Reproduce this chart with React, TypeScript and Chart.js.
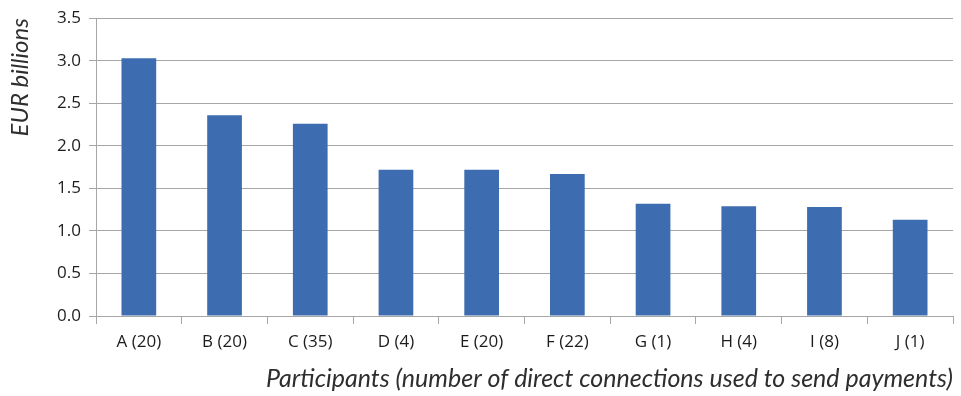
import React, { useEffect, useRef } from "react";
import { Chart, registerables } from "chart.js";

Chart.register(...registerables);

// Participants with their number of direct connections used to send payments
const categories = ["A (20)", "B (20)", "C (35)", "D (4)", "E (20)", "F (22)", "G (1)", "H (4)", "I (8)", "J (1)"];
// Value in EUR billions
const values = [3.03, 2.36, 2.26, 1.72, 1.72, 1.67, 1.32, 1.29, 1.28, 1.13];
const yTicks = [0, 0.5, 1.0, 1.5, 2.0, 2.5, 3.0, 3.5];

const yTitle = "EUR billions";
const xTitle = "Participants (number of direct connections used to send payments)";

const BAR = "#3d6db0";
const GRID = "#a6a6a6";
const TEXT = "#1c1c1c";

export default function App() {
  const ref = useRef<HTMLCanvasElement | null>(null);

  useEffect(() => {
    if (!ref.current) return;
    const chart = new Chart(ref.current, {
      type: "bar",
      data: {
        labels: categories,
        datasets: [
          {
            data: values,
            backgroundColor: BAR,
            borderWidth: 0,
            categoryPercentage: 1,
            barPercentage: 0.405,
          },
        ],
      },
      options: {
        animation: false,
        responsive: false,
        maintainAspectRatio: false,
        layout: { padding: { top: 17, right: 8, left: 0, bottom: 0 } },
        plugins: { legend: { display: false }, tooltip: { enabled: false } },
        scales: {
          x: {
            grid: {
              offset: true,
              drawOnChartArea: false,
              drawTicks: true,
              tickLength: 8,
              color: GRID,
              lineWidth: 1,
            },
            border: { display: true, color: GRID, width: 1 },
            ticks: {
              color: TEXT,
              font: { family: "'Open Sans', sans-serif", size: 17 },
              padding: 8,
              maxRotation: 0,
              autoSkip: false,
            },
            title: {
              display: true,
              text: xTitle,
              align: "end",
              color: "#2e2e2e",
              font: { family: "Lato, sans-serif", size: 25, style: "italic" },
              padding: { top: 0, bottom: 2 },
            },
            afterFit: (scale: any) => {
              scale.height = 80;
            },
          },
          y: {
            min: 0,
            max: 3.5,
            afterBuildTicks: (scale: any) => {
              scale.ticks = yTicks.map((v) => ({ value: v }));
            },
            grid: {
              color: GRID,
              lineWidth: 1,
              drawTicks: true,
              tickLength: 7,
            },
            border: { display: true, color: GRID, width: 1 },
            ticks: {
              color: TEXT,
              font: { family: "'Open Sans', sans-serif", size: 17 },
              padding: 8,
              callback: (v: any) => Number(v).toFixed(1),
            },
            title: {
              display: true,
              text: yTitle,
              align: "end",
              color: "#2e2e2e",
              font: { family: "Lato, sans-serif", size: 24, style: "italic" },
              padding: { top: 6, bottom: 0 },
            },
            afterFit: (scale: any) => {
              scale.width = 96;
            },
          },
        },
      },
    });
    return () => chart.destroy();
  }, []);

  return (
    <div style={{ position: "fixed", left: 0, top: 0, width: 961, height: 396, background: "#ffffff" }}>
      <canvas ref={ref} width={961} height={396} style={{ display: "block" }} />
    </div>
  );
}
